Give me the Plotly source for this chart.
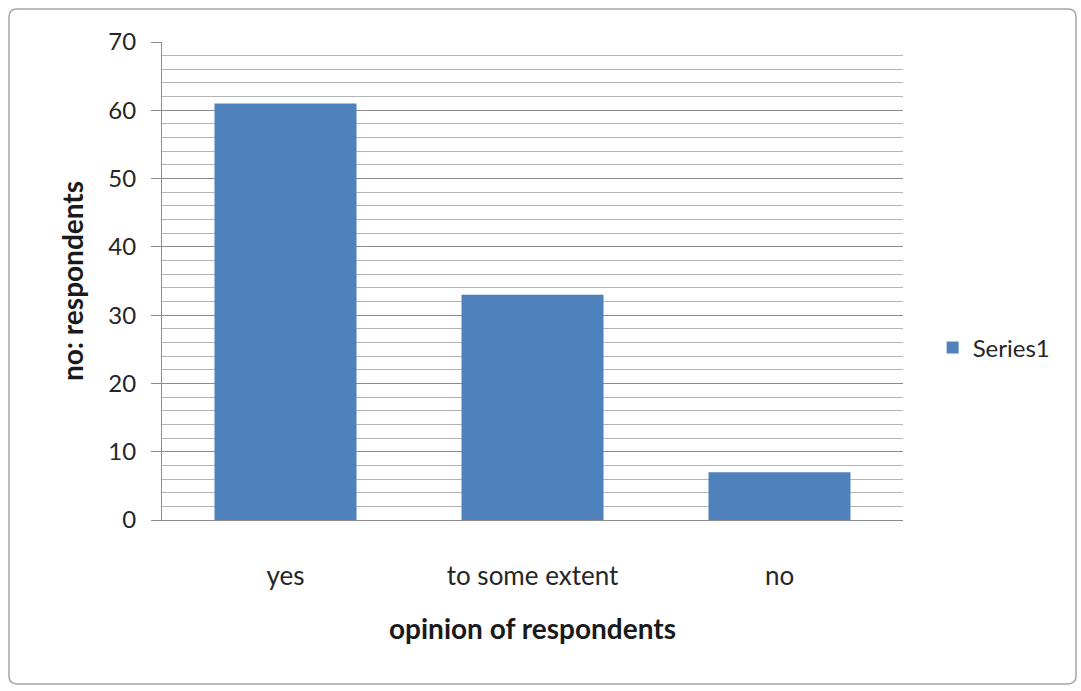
import plotly.graph_objects as go

categories = ["yes", "to some extent", "no"]
values = [61, 33, 7]
series_name = "Series1"
y_ticks = [0, 10, 20, 30, 40, 50, 60, 70]

FONT = "Lato"
TXT = "#262626"

fig = go.Figure()
fig.add_trace(go.Bar(
    x=categories, y=values, name=series_name,
    marker=dict(color="#4F81BD", line=dict(width=0)),
    width=0.575,
))

fig.update_layout(
    width=1081, height=691,
    margin=dict(l=162, r=178, t=42, b=171),
    paper_bgcolor="white", plot_bgcolor="white",
    font=dict(family=FONT, size=22, color=TXT),
    showlegend=True,
    legend=dict(x=1.040, y=0.36, xanchor="left", yanchor="middle",
                font=dict(family=FONT, size=24, color=TXT),
                itemwidth=30, bgcolor="rgba(0,0,0,0)"),
)

fig.update_yaxes(
    range=[0, 70], tickvals=y_ticks, ticktext=[str(v) for v in y_ticks],
    showgrid=True, gridcolor="#8C8C8C", gridwidth=1,
    minor=dict(dtick=2, showgrid=True, gridcolor="#B4B4B4", gridwidth=1, ticks=""),
    ticks="outside", ticklen=10, tickcolor="#8C8C8C",
    showline=True, linecolor="#8C8C8C", linewidth=1,
    tickfont=dict(family=FONT, size=24, color=TXT),
    ticklabelstandoff=10,
    zeroline=False,
    title=dict(text="<b>no: respondents</b>", font=dict(family=FONT, size=28, color="#1a1a1a"), standoff=16),
)
fig.update_xaxes(
    showline=True, linecolor="#8C8C8C", linewidth=1,
    ticks="", tickfont=dict(family=FONT, size=26, color=TXT),
    ticklabelstandoff=33,
    title=dict(text="<b>opinion of respondents</b>", font=dict(family=FONT, size=28, color="#1a1a1a"), standoff=29),
)

# outer rounded border (paper coordinates)
x0, x1, y0, y1 = -0.2065, 1.2335, -0.343, 1.069
rx, ry = 0.011, 0.017
path = (f"M {x0+rx},{y1} L {x1-rx},{y1} Q {x1},{y1} {x1},{y1-ry} "
        f"L {x1},{y0+ry} Q {x1},{y0} {x1-rx},{y0} "
        f"L {x0+rx},{y0} Q {x0},{y0} {x0},{y0+ry} "
        f"L {x0},{y1-ry} Q {x0},{y1} {x0+rx},{y1} Z")
fig.add_shape(type="path", xref="paper", yref="paper", path=path,
              line=dict(color="#A6A6A6", width=1.5), fillcolor="rgba(0,0,0,0)", layer="below")

fig.write_html("out.html")
